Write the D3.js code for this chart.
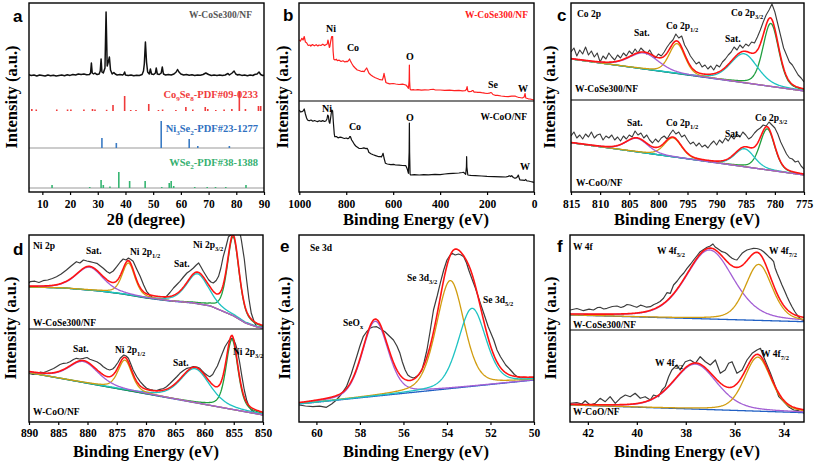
<!DOCTYPE html>
<html><head><meta charset="utf-8">
<script src="https://cdn.jsdelivr.net/npm/d3@7"></script>
<style>
body{margin:0;background:#fff}
svg{display:block}
</style>
</head><body>
<svg width="817" height="465"></svg>
<script>
// ---------------- DATA ----------------
// Panel a: XRD (2theta, intensity a.u.)
const xrdTicks = [10,20,30,40,50,60,70,80,90];
const xrdPattern = [[5,1.5],[6,0.5],[7,1],[8,0],[9,1],[10,0.5],[11,0],[12,1],[13,0.2],[14,0.8],[15,0],[16,0.6],[17,1],[18,0.3],[19,1.2],[20,0.6],[21,1.5],[22,1],[23,2],[24,1.5],[25,2],[26,1.2],[27,1.5],
 [27.4,3],[27.7,13],[28,3],[28.5,2],[29,3],[29.4,2],[29.8,1.5],[30.5,2],[30.9,5],[31.2,17],[31.5,4],[32,3],[32.6,8],[33,64],[33.4,10],[33.8,14],[34.2,19],[34.6,6],[35.2,2],[35.8,3.5],[36.3,2],[37,1],[38,1.5],[39,1],[39.4,2],[39.7,4],[40,1],[41,0.5],[42,1],[43,0.3],[44,0.8],[45,0.5],[46,1.5],[46.5,5],[46.8,12],[47.2,34],[47.6,14],[48,4],[48.6,2],[49,7],[49.4,2],[50.2,1.5],[50.8,3],[51.1,8],[51.5,2],[52.2,1.5],[52.9,3],[53.3,9],[53.7,2],[54.5,1],[55.5,1.5],[56.5,1],[57.5,2],[58.3,4],[58.8,6.5],[59.3,4],[60,2],
 [61,1],[62,1.5],[63,0.8],[64,1.2],[65,0.5],[66,1],[67,0.8],[68,1.5],[69,3],[70,1.5],[71,0.5],[72,1],[73,0.5],[74,1],[75,0.4],[76,1],[77,2.5],[77.5,1],[78.5,3],[79.2,5],[79.8,2],[80.5,1],[81,1.5],[82,0.6],[83,1],[84,0.3],[85,1],[86,0.5],[86.6,1.5],[87.5,2],[88.2,4],[88.8,1.5],[89.5,0.5],[90,0.8]];
const co9se8Sticks = [[6.2,2],[7.8,1.5],[15.2,1.5],[19.1,1.5],[20.3,1.5],[25.0,1.5],[28.1,2],[29.0,1.5],[33.2,1.2],[35.5,6],[39.7,15],[41.9,1],[43.8,1],[48.4,7],[51.9,1],[53.4,1.5],[58.2,1],[61.8,4],[64.3,1.5],[68.8,4],[69.7,2],[72.6,1],[75.6,1.5],[78.4,2],[81.1,20],[83.3,2],[88.0,5],[88.8,5]];
const ni3se2Sticks = [[31.5,10],[36.7,5],[52.9,27],[63.0,9],[66.1,2],[77.5,2]];
const wse2Sticks = [[13.5,3],[27.1,1],[31.2,8],[32.0,3],[34.4,1.5],[37.6,16],[41.5,7],[47.1,7],[53.1,1],[55.8,5],[56.5,7],[57.4,2],[65.0,1],[69.5,1],[72.5,1],[76.2,1],[83.5,3]];

// Panel b: XPS survey (BE eV, intensity a.u.)
const surveyTicks = [1000,800,600,400,200,0];
const surveyCoSe = [[1000,61],[995,60],[989,62.7],[984,61],[979,64.5],[974,59],[969,58.3],[962,55.5],[955,56],[951,55],[944,56.5],[936,55.2],[928,56.3],[921,55],[916,56],[908,55.5],[900,56.8],[892,55.4],[885,56.5],[881,57],[878,61],[876,59],[872,53.5],[870,54.3],[866,60],[862,64.3],[858,64.5],[856,50],[853,41.7],[848,41],[842,41.8],[838,40.3],[830,40.8],[822,39.5],[814,40.2],[806,39],[800,39.6],[795,39.3],[790,40.5],[786,42],[782,40],[777,37.7],[770,35],[762,33],[753,31],[745,30.5],[735,29.5],[728,29.8],[724,29.3],[718,31.5],[713,33],[709,31],[703,27.7],[695,26],[686,24.5],[676,23.2],[668,22.5],[660,21.7],[654,21.3],[646,21],[642,24],[639,27.7],[636,24],[631,18.5],[625,17.8],[615,17.2],[600,17.5],[589,17],[575,16.5],[560,16.8],[546,16],[540,14.5],[535,12.7],[532,20],[531,36],[530,20],[528,12],[524,11],[515,11.3],[507,11],[495,11.4],[480,10.8],[465,11.2],[450,11],[440,11.5],[429,11.7],[420,11],[400,11],[380,10.6],[360,10.8],[340,10.4],[320,10.6],[305,10.2],[294,10.3],[288,11.5],[285,14.3],[282,10],[277,9.3],[268,9.5],[262,10.5],[259,10.3],[255,8.8],[251,9],[240,8.6],[230,8.7],[223,8.3],[210,7.8],[200,7.5],[190,7.8],[184,8.5],[180,8],[175,6.5],[166,5.7],[155,5.6],[140,5],[125,4.6],[110,4.3],[95,4.8],[81,5],[74,4.2],[67,3.7],[62,3.5],[50,3],[42,4],[38,7.5],[35,3],[24,2.2],[17,2],[8,1.5],[0,1]];
const surveyCoO = [[1000,82],[995,80],[989,80.3],[984,81],[979,83],[974,78],[969,74],[965,72],[958,71.2],[950,72],[942,70.8],[935,71.5],[930,71],[922,70.4],[915,71.3],[907,70.6],[900,71.4],[893,70.5],[887,71],[882,73],[879,77],[876,76],[873,70],[870,68.7],[866,75],[862,82],[858,81],[855,70],[851,58],[849,55.3],[842,55.5],[835,54.2],[826,54.8],[817,54.3],[808,53.5],[800,54],[794,53.4],[789,53.7],[785,55.5],[782,55.3],[777,52],[772,50.3],[765,47.5],[757,45.4],[746,43.7],[735,43.5],[725,44.1],[716,43.4],[711,43.7],[707,42],[704,39.7],[695,38.3],[685,37.2],[675,36.4],[661,35.3],[655,35.5],[650,35],[646,37],[643,38.7],[639,34],[633,28.7],[625,28],[610,27.3],[598,27.6],[590,27],[575,26.8],[560,26.5],[546,26.3],[540,23],[535,18.7],[532,40],[531,69],[530,40],[528,18],[526,17],[510,17.3],[489,17],[470,17.4],[450,17.2],[422,17.7],[400,17.4],[380,18],[365,18.3],[345,18.6],[320,19],[305,19.5],[301,19.7],[294,18.5],[291,17.7],[288,25],[287,35.3],[286,25],[282,17],[270,16.6],[250,16.4],[223,16],[200,15.6],[170,15.4],[140,15.2],[120,15],[110,15.6],[105,16.2],[100,15.4],[95,16.3],[88,14.5],[81,13.7],[74,14.4],[70,15.5],[67,17],[63,14],[60,12],[50,11.8],[40,11.6],[35,12.5],[30,11],[24,11],[15,10.5],[8,10.2],[0,9.7]];

// Panel c: Co 2p (raw on 0.5 eV grid from 815 to 775)
const coTicks = [815,810,805,800,795,790,785,780,775];
const coSeRaw = [48,52,44,50,46,53,45,49,43,47,38,44,41,47,43,40,45,42,47,44,49,46,51,47,52,49,46,50,45,42,46,44,48,53,57,60,66,62,64,55,50,44,40,36,38,33,35,31,34,30,35,33,38,41,45,48,53,50,55,52,56,54,58,57,63,70,78,85,90,96,88,76,64,52,45,38,35,30,25,22,18];
const coORaw = [56,60,54,57,53,58,55,60,54,57,58,52,56,54,57,52,55,51,56,53,57,55,61,57,59,54,57,52,49,53,50,54,56,53,58,62,58,60,55,57,52,48,50,46,49,45,47,44,48,51,47,52,49,54,51,56,53,58,55,60,57,53,55,59,62,64,67,66,70,67,64,58,50,44,38,34,33,30,31,26,23];
const coSeBg = [[815,41],[775,9]];
const coSeCenter = [780.7,785.3,796.8,802.5];
const coSeHeight = [63,29,30,16];
const coSeWidth = [3.2,5.5,3.2,6];
const coOBg = [[815,49.3],[775,17]];
const coOCenter = [781.3,785.2,797.5,803.7];
const coOHeight = [41,18,19,13.5];
const coOWidth = [3.0,4.0,3.5,4.5];

// Panel d: Ni 2p
const niTicks = [890,885,880,875,870,865,860,855,850];
const niSeRaw = [[890,46],[889.8,47.3],[889,47.8],[888.3,46.5],[887.6,48.3],[886.8,49],[886,50.5],[885.3,52.3],[884.5,55],[883.6,59],[882.8,63],[881.9,67.3],[881.3,66],[880.7,69],[880.1,68],[879.6,67.3],[879,66.5],[878.4,65.7],[877.8,63],[877.3,60.7],[876.7,57.5],[876.2,55.7],[875.6,58],[875,62.3],[874.4,67],[873.9,70],[873.4,69],[873,71],[872.6,69.5],[872.2,67.7],[871.6,60],[871,52.7],[870.4,44],[869.9,37.7],[869.3,33.5],[868.8,31],[868.2,30],[867.6,29.3],[867,30.5],[866.5,32.7],[865.9,36.5],[865.3,41],[864.8,44],[864.2,47.7],[863.6,52],[863,56],[862.4,58.5],[861.9,61],[861.4,64],[861,66],[860.6,62],[860.2,57.7],[859.7,53],[859.3,49.3],[858.9,47],[858.5,46],[858,48.5],[857.6,52.7],[857.2,61],[856.8,72.3],[856.3,83],[855.9,92.3],[855.5,94],[855.1,95.7],[854.6,96],[854.2,97.3],[853.9,95],[853.7,89],[853.2,70],[852.8,49],[852.4,30],[852,15.7],[851.5,7],[851.1,2.3],[850.5,2],[850,2.3]];
const niORaw = [[890,48.7],[889.3,47.5],[888.7,48],[888.1,49.8],[887.6,49.3],[887,50.5],[886.4,52],[885.8,53.5],[885.3,55.3],[884.7,57.5],[884.1,58.7],[883.5,59],[883,60.3],[882.4,62.5],[881.9,63.7],[881.3,63],[880.7,63.7],[880.1,64.5],[879.6,62.7],[879,61.5],[878.4,60.3],[877.8,58],[877.3,55.3],[876.7,53],[876.2,52],[875.7,53],[875.3,55.3],[874.8,59.5],[874.4,63.7],[873.8,67],[873.4,66],[873,63.7],[872.6,58],[872.2,52],[871.6,45.5],[871,40.3],[870.4,36.5],[869.9,33.7],[869.3,32.5],[868.8,32],[868.2,31.5],[867.6,32.7],[867,33.5],[866.5,35.3],[865.9,38.5],[865.3,42],[864.7,45.5],[864.2,48.7],[863.6,51.5],[863,53.7],[862.4,54.5],[861.9,55.3],[861.3,55],[860.8,53.7],[860.4,51],[860,48.7],[859.5,46.5],[859.1,45.3],[858.6,47.5],[858.2,52],[857.8,56],[857.4,62],[857,68],[856.5,75.3],[856.1,79],[855.7,82.5],[855.3,83.7],[855,82],[854.7,78],[854.4,72],[854,60],[853.6,45.3],[853.2,32],[852.8,22],[852.4,15.5],[852,12],[851.5,10],[851.1,8.7],[850.5,7.8],[850,7]];
const niSeBg = [[890,42],[884,41],[878,38],[874,35],[870,31],[866,28],[862,26],[859,23],[857,18],[855,13],[853,6],[851,2],[850,1]];
const niSeCenter = [855.1,861.2,873.0,879.7];
const niSeHeight = [79,30,32,23];
const niSeWidth = [2.4,4.5,2.6,5.5];
const niOBg = [[890,49.3],[850,7]];
const niOCenter = [855.3,861.6,873.6,880.7];
const niOHeight = [70,34,30,21];
const niOWidth = [2.4,6,2.8,6];

// Panel e: Se 3d
const seTicks = [60,58,56,54,52,50];
const seRaw = [[60.8,17],[60.5,16],[60.16,15.3],[59.85,15.8],[59.54,14.7],[59.3,18],[59.08,22],[58.85,28],[58.62,35.3],[58.4,48],[58.15,65.3],[58.0,76],[57.85,85.3],[57.7,90],[57.54,93.7],[57.4,95],[57.23,95.3],[57.05,93],[56.85,90.3],[56.65,86],[56.46,82],[56.3,76],[56.16,68.7],[56.05,60],[55.92,52],[55.8,47],[55.69,45.3],[55.55,44],[55.46,44.7],[55.3,47],[55.15,52],[55.05,60],[54.92,72],[54.78,90],[54.62,112],[54.45,126],[54.31,138.7],[54.15,152],[54.0,162],[53.88,166],[53.77,168.7],[53.62,167],[53.47,168],[53.35,167],[53.23,165.3],[53.1,159],[53.0,152],[52.85,143],[52.69,133.7],[52.5,121],[52.31,108.7],[52.1,95],[51.85,82],[51.7,72],[51.54,65.3],[51.3,57],[51.08,52],[50.9,47.5],[50.77,45.3],[50.6,44],[50.47,44.7],[50.25,44],[50.0,43.7]];
const seBg = [[60.8,18],[50,42]];
const seCenter = [57.3,53.85,52.85];
const seHeight = [75,108,78];
const seWidth = [1.4,1.5,1.5];

// Panel f: W 4f
const wTicks = [42,40,38,36,34];
const wSeRaw = [[42.72,20],[42.45,21.5],[42.18,19.3],[41.95,20.8],[41.77,20],[41.6,22.5],[41.5,22.7],[41.35,21],[41.22,21.7],[41.0,23.5],[40.81,24],[40.65,22.5],[40.54,23.3],[40.4,25.5],[40.27,25],[40.1,23.5],[40.0,22.7],[39.85,24.8],[39.73,24],[39.6,22.8],[39.45,23.3],[39.3,25.5],[39.18,26.7],[39.05,28.5],[38.91,31.7],[38.77,37.3],[38.63,36.7],[38.5,45],[38.35,49],[38.22,53.3],[38.08,57],[37.95,61.7],[37.8,66],[37.68,70],[37.55,74],[37.41,78.3],[37.27,80.5],[37.13,82.7],[37.0,84],[36.89,86],[36.8,83],[36.72,81.7],[36.62,80],[36.52,78.3],[36.4,77.5],[36.31,76],[36.2,73.5],[36.11,71.7],[36.0,70.5],[35.91,70],[35.8,73.5],[35.7,76.7],[35.6,78.5],[35.5,80],[35.35,81],[35.23,81.7],[35.1,81.5],[35.02,81],[34.92,80],[34.82,78.3],[34.72,76],[34.61,73.3],[34.5,71],[34.41,68.3],[34.35,62],[34.27,56.7],[34.17,51],[34.07,45],[33.96,39],[33.86,33.3],[33.76,28],[33.66,23.3],[33.55,18.5],[33.45,15],[33.35,12],[33.25,10],[33.15,9.3]];
const wORaw = [[42.72,18.7],[42.45,19.3],[42.25,18],[42.11,21.3],[41.91,17],[41.7,18.7],[41.5,23.7],[41.29,20.3],[41.09,25.3],[40.88,18.7],[40.68,23.7],[40.47,27],[40.27,25.3],[40.07,28.7],[39.86,23.7],[39.66,25.3],[39.45,22],[39.32,27],[39.11,25.3],[38.97,32],[38.84,35.3],[38.7,45.3],[38.57,52],[38.36,57],[38.23,52],[38.02,60.3],[37.82,62],[37.61,58.7],[37.41,65.3],[37.2,60.3],[37.0,57],[36.79,62],[36.59,48.7],[36.39,52],[36.25,58.7],[36.11,60.3],[35.91,48.7],[35.7,52],[35.5,62],[35.29,68.7],[35.09,72],[34.95,73.7],[34.82,65.3],[34.68,57],[34.54,48.7],[34.41,40.3],[34.2,25.3],[34.0,20.3],[33.81,15.3],[33.59,12],[33.39,11.3],[33.15,8.7]];
const wSeBg = [[42.72,15],[33.15,8.3]];
const wSeCenter = [37.03,35.02];
const wSeHeight = [69,56];
const wSeWidth = [2.3,1.3];
const wOBg = [[42.72,17],[33.15,9.3]];
const wOCenter = [37.61,35.06];
const wOHeight = [45,54];
const wOWidth = [2.1,1.3];

// ---------------- DRAWING ----------------
const SERIF = '"Liberation Serif","Times New Roman",Times,"DejaVu Serif",serif';
const SANS = '"Liberation Sans",Arial,Helvetica,sans-serif';
const svg = d3.select('svg');
const defs = svg.append('defs');
const COL = {raw:'#3c3c3c', red:'#ff1414', green:'#1f9e3e', cyan:'#1ec3c3', orange:'#d19d10', purple:'#a35fd4', blue:'#2160c4'};
let cid = 0;
function clip(x0,y0,x1,y1){const id='cp'+(cid++);defs.append('clipPath').attr('id',id).append('rect').attr('x',x0).attr('y',y0).attr('width',x1-x0).attr('height',y1-y0);return 'url(#'+id+')';}
function pv(x,c,h,w,eta){const t=(x-c)/w;const L=1/(1+4*t*t),G=Math.exp(-4*Math.LN2*t*t);return h*(eta*L+(1-eta)*G);}
function serif(sel){return sel.style('font-family',SERIF).style('font-weight','bold');}
function frame(x0,y0,x1,y1,divs){
  svg.append('rect').attr('x',x0).attr('y',y0).attr('width',x1-x0).attr('height',y1-y0).attr('fill','none').attr('stroke','#000').attr('stroke-width',1.4);
  (divs||[]).forEach(d=>svg.append('line').attr('x1',x0).attr('x2',x1).attr('y1',d).attr('y2',d).attr('stroke','#000').attr('stroke-width',1.2));
}
function bottomAxis(x,ticks,y0,pad){
  const g=svg.append('g').attr('transform','translate(0,'+y0+')').call(d3.axisBottom(x).tickValues(ticks).tickSize(3).tickPadding(pad).tickFormat(d3.format('d')));
  g.select('.domain').remove();
  g.selectAll('line').attr('stroke','#000').attr('stroke-width',1.2);
  serif(g.selectAll('text')).style('font-size','11.5px').attr('fill','#000');
}
function yTitle(cx,cy){serif(svg.append('text')).attr('transform','translate('+cx+','+cy+') rotate(-90)').attr('text-anchor','middle').style('font-size','16.5px').text('Intensity (a.u.)');}
function xTitle(cx,y,t){serif(svg.append('text')).attr('x',cx).attr('y',y).attr('text-anchor','middle').style('font-size','16.5px').text(t);}
function letter(x,y,t){svg.append('text').attr('x',x).attr('y',y).style('font-size','17px').style('font-family',SANS).style('font-weight','bold').text(t);}
function label(x,y,parts,opt){
  opt=opt||{};const size=opt.size||9.5;
  const t=serif(svg.append('text')).attr('x',x).attr('y',y).style('font-size',size+'px').attr('fill',opt.fill||'#000').attr('text-anchor',opt.anchor||'start');
  let sub=false;
  parts.forEach(p=>{
    const isSub=Array.isArray(p);const s=isSub?p[0]:p;
    const ts=t.append('tspan').text(s);
    if(isSub){ts.style('font-size',(size*0.68)+'px').attr('dy',sub?0:size*0.3);sub=true;}
    else{if(sub)ts.attr('dy',-size*0.3);sub=false;}
  });
}
function rawLine(g,x,y,pts,color,w){
  g.append('path').datum(pts).attr('fill','none').attr('stroke',color).attr('stroke-width',w||1.2).attr('stroke-linejoin','round')
   .attr('d',d3.line().x(d=>x(d[0])).y(d=>y(d[1])));
}
function fit(g,x,y,bg,centers,heights,widths,colors,eta){
  const dom=x.domain();const lo=Math.min(dom[0],dom[1]),hi=Math.max(dom[0],dom[1]);
  const grid=d3.range(lo,hi+(hi-lo)/800,(hi-lo)/400);
  const bgS=d3.scaleLinear().domain(bg.map(d=>d[0])).range(bg.map(d=>d[1])).clamp(true);
  const line=d3.line().x(d=>x(d[0])).y(d=>y(d[1]));
  g.append('path').datum(grid.map(e=>[e,bgS(e)])).attr('fill','none').attr('stroke',COL.blue).attr('stroke-width',1.3).attr('d',line);
  centers.forEach((c,i)=>{
    g.append('path').datum(grid.map(e=>[e,bgS(e)+pv(e,c,heights[i],widths[i],eta)])).attr('fill','none').attr('stroke',colors[i]).attr('stroke-width',1.3).attr('d',line);
  });
  g.append('path').datum(grid.map(e=>[e,bgS(e)+d3.sum(centers,(c,i)=>pv(e,c,heights[i],widths[i],eta))])).attr('fill','none').attr('stroke',COL.red).attr('stroke-width',1.6).attr('d',line);
}

// ===== Panel a =====
{
  const x=d3.scaleLinear().domain([5,90]).range([28.5,264]);
  const y=d3.scaleLinear().domain([0,189]).range([192,3]);
  const g=svg.append('g').attr('clip-path',clip(29,3,264,192));
  [[44,'#999'],[4,'#999']].forEach(b=>g.append('line').attr('x1',29).attr('x2',264).attr('y1',y(b[0])).attr('y2',y(b[0])).attr('stroke',b[1]).attr('stroke-width',1));
  const sticks=(data,off,color)=>g.selectAll(null).data(data).enter().append('line')
     .attr('x1',d=>x(d[0])).attr('x2',d=>x(d[0])).attr('y1',y(off)).attr('y2',d=>y(off+d[1])).attr('stroke',color).attr('stroke-width',1.6);
  sticks(co9se8Sticks,81,'#ef3a3a');
  sticks(ni3se2Sticks,44,'#3a7bc4');
  sticks(wse2Sticks,4,'#36b572');
  g.append('path').datum(xrdPattern).attr('fill','none').attr('stroke','#111').attr('stroke-width',1.5).attr('stroke-linejoin','round')
    .attr('d',d3.line().x(d=>x(d[0])).y(d=>y(116+d[1])));
  frame(29,3,264,192);
  bottomAxis(x,xrdTicks,192,4.5);
  yTitle(17,97);
  xTitle(146,225,'2θ (degree)');
  letter(13,22,'a');
  label(252,18,['W-CoSe300/NF'],{anchor:'end',fill:'#555'});
  label(258,98,['Co',['9'],'Se',['8'],'-PDF#09-0233'],{anchor:'end',fill:'#f03c3c',size:10.5});
  label(258,132,['Ni',['3'],'Se',['2'],'-PDF#23-1277'],{anchor:'end',fill:'#2f70c0',size:10.5});
  label(258,166,['WSe',['2'],'-PDF#38-1388'],{anchor:'end',fill:'#35b070',size:10.5});
}

// ===== Panel b =====
{
  const x=d3.scaleLinear().domain([1000,0]).range([299.3,534]);
  const yT=d3.scaleLinear().domain([0,98]).range([101,3]);
  const yB=d3.scaleLinear().domain([0,91]).range([192,101]);
  const g=svg.append('g').attr('clip-path',clip(299,3,534,192));
  rawLine(g,x,yT,surveyCoSe,'#ff2020',1.2);
  rawLine(g,x,yB,surveyCoO,'#111',1.2);
  frame(299,3,534,192,[101]);
  bottomAxis(x,surveyTicks,192,4.5);
  yTitle(288,97);
  xTitle(416,225,'Binding Energy (eV)');
  letter(283,21,'b');
  label(528,18,['W-CoSe300/NF'],{anchor:'end',fill:'#ff1a1a'});
  label(331,32,['Ni'],{anchor:'middle',size:10});
  label(353,51,['Co'],{anchor:'middle',size:10});
  label(410,60,['O'],{anchor:'middle',size:10});
  label(493,88,['Se'],{anchor:'middle',size:10});
  label(523,92,['W'],{anchor:'middle',size:10});
  label(327,112,['Ni'],{anchor:'middle',size:10});
  label(355,130,['Co'],{anchor:'middle',size:10});
  label(410,121,['O'],{anchor:'middle',size:10});
  label(527,120,['W-CoO/NF'],{anchor:'end'});
  label(525,170,['W'],{anchor:'middle',size:10});
}

// ===== Panel c =====
{
  const x=d3.scaleLinear().domain([815,775]).range([571,804]);
  const yT=d3.scaleLinear().domain([0,97]).range([100,3]);
  const yB=d3.scaleLinear().domain([0,92]).range([192,100]);
  const grid=d3.range(815,774.75,-0.5);
  const gT=svg.append('g').attr('clip-path',clip(571,3,804,100));
  const gB=svg.append('g').attr('clip-path',clip(571,100,804,192));
  const cols=[COL.green,COL.cyan,COL.orange,COL.purple];
  rawLine(gT,x,yT,grid.map((e,i)=>[e,coSeRaw[i]]),COL.raw,1.1);
  fit(gT,x,yT,coSeBg,coSeCenter,coSeHeight,coSeWidth,cols,0.3);
  rawLine(gB,x,yB,grid.map((e,i)=>[e,coORaw[i]]),COL.raw,1.1);
  fit(gB,x,yB,coOBg,coOCenter,coOHeight,coOWidth,cols,0.3);
  frame(571,3,804,192,[100]);
  bottomAxis(x,coTicks,192,4.5);
  yTitle(555,97);
  xTitle(687,225,'Binding Energy (eV)');
  letter(557,21,'c');
  label(577,17,['Co 2p']);
  label(634,36,['Sat.']);
  label(666,29,['Co 2p',['1/2']]);
  label(725,42,['Sat.']);
  label(731,16,['Co 2p',['3/2']]);
  label(575,92,['W-CoSe300/NF']);
  label(627,126,['Sat.']);
  label(666,126,['Co 2p',['1/2']]);
  label(725,137,['Sat.']);
  label(755,121,['Co 2p',['3/2']]);
  label(576,186,['W-CoO/NF']);
}

// ===== Panel d =====
{
  const x=d3.scaleLinear().domain([890,850]).range([29,263]);
  const yT=d3.scaleLinear().domain([0,94]).range([329,235]);
  const yB=d3.scaleLinear().domain([0,93]).range([422,329]);
  const gT=svg.append('g').attr('clip-path',clip(29,235,263,329));
  const gB=svg.append('g').attr('clip-path',clip(29,329,263,422));
  const cols=[COL.green,COL.cyan,COL.orange,COL.purple];
  rawLine(gT,x,yT,niSeRaw,COL.raw,1.2);
  fit(gT,x,yT,niSeBg,niSeCenter,niSeHeight,niSeWidth,cols,0.45);
  rawLine(gB,x,yB,niORaw,COL.raw,1.2);
  fit(gB,x,yB,niOBg,niOCenter,niOHeight,niOWidth,cols,0.45);
  frame(29,235,263,422,[329]);
  bottomAxis(x,niTicks,422,4);
  yTitle(16,328);
  xTitle(146,457,'Binding Energy (eV)');
  letter(13,255,'d');
  label(33,249,['Ni 2p']);
  label(86,254,['Sat.']);
  label(130,255,['Ni 2p',['1/2']]);
  label(174,267,['Sat.']);
  label(193,248,['Ni 2p',['3/2']]);
  label(33,326,['W-CoSe300/NF']);
  label(73,352,['Sat.']);
  label(115,353,['Ni 2p',['1/2']]);
  label(173,366,['Sat.']);
  label(233,355,['Ni 2p',['3/2']]);
  label(33,415,['W-CoO/NF']);
}

// ===== Panel e =====
{
  const x=d3.scaleLinear().domain([60.8,50]).range([299,534]);
  const y=d3.scaleLinear().domain([0,187]).range([422,235]);
  const g=svg.append('g').attr('clip-path',clip(299,235,534,422));
  rawLine(g,x,y,seRaw,COL.raw,1.2);
  fit(g,x,y,seBg,seCenter,seHeight,seWidth,[COL.purple,COL.orange,COL.cyan],0.3);
  frame(299,235,534,422);
  bottomAxis(x,seTicks,422,4);
  yTitle(290,328);
  xTitle(416,457,'Binding Energy (eV)');
  letter(280,252,'e');
  label(310,251,['Se 3d']);
  label(407,281,['Se 3d',['3/2']]);
  label(483,303,['Se 3d',['5/2']]);
  label(343,326,['SeO',['x']]);
}

// ===== Panel f =====
{
  const x=d3.scaleLinear().domain([42.73,33.17]).range([570,804]);
  const yT=d3.scaleLinear().domain([0,95]).range([330,235]);
  const yB=d3.scaleLinear().domain([0,92]).range([422,330]);
  const gT=svg.append('g').attr('clip-path',clip(570,235,804,330));
  const gB=svg.append('g').attr('clip-path',clip(570,330,804,422));
  const cols=[COL.purple,COL.orange];
  rawLine(gT,x,yT,wSeRaw,COL.raw,1.2);
  fit(gT,x,yT,wSeBg,wSeCenter,wSeHeight,wSeWidth,cols,0.35);
  rawLine(gB,x,yB,wORaw,COL.raw,1.2);
  fit(gB,x,yB,wOBg,wOCenter,wOHeight,wOWidth,cols,0.35);
  frame(570,235,804,422,[330]);
  bottomAxis(x,wTicks,422,4);
  yTitle(556,328);
  xTitle(687,457,'Binding Energy (eV)');
  letter(557,252,'f');
  label(573,250,['W 4f']);
  label(657,254,['W 4f',['5/2']]);
  label(769,254,['W 4f',['7/2']]);
  label(573,328,['W-CoSe300/NF']);
  label(655,366,['W 4f',['5/2']]);
  label(761,357,['W 4f',['7/2']]);
  label(573,415,['W-CoO/NF']);
}
</script>
</body></html>
